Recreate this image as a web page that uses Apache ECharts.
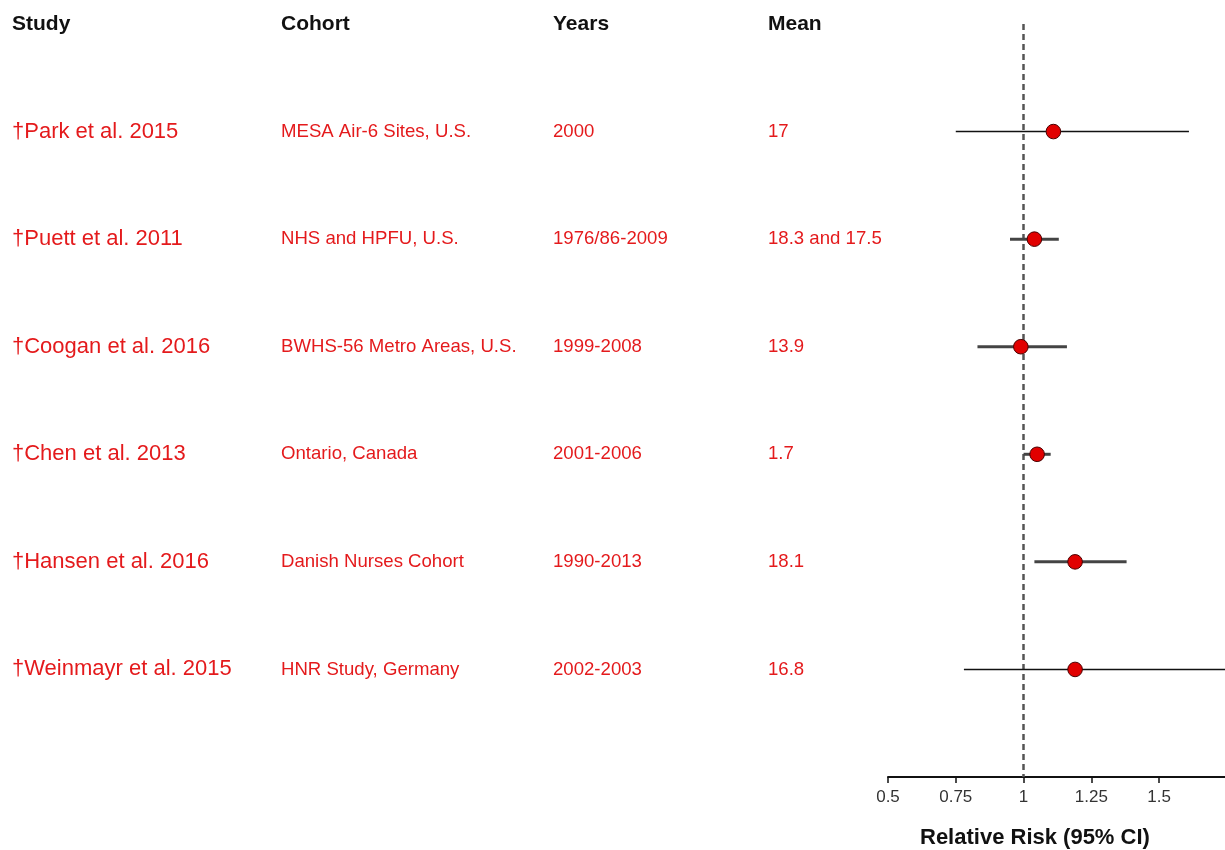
<!DOCTYPE html>
<html>
<head>
<meta charset="utf-8">
<script src="https://cdn.jsdelivr.net/npm/echarts@6/dist/echarts.min.js"></script>
<style>html,body{margin:0;padding:0;background:#fff}#chart{width:1225px;height:850px}</style>
</head>
<body>
<div id="chart"></div>
<script>
const headers = ['Study', 'Cohort', 'Years', 'Mean'];
const studies = ['\u2020Park et al. 2015', '\u2020Puett et al. 2011', '\u2020Coogan et al. 2016', '\u2020Chen et al. 2013', '\u2020Hansen et al. 2016', '\u2020Weinmayr et al. 2015'];
const cohorts = ['MESA Air-6 Sites, U.S.', 'NHS and HPFU, U.S.', 'BWHS-56 Metro Areas, U.S.', 'Ontario, Canada', 'Danish Nurses Cohort', 'HNR Study, Germany'];
const years = ['2000', '1976/86-2009', '1999-2008', '2001-2006', '1990-2013', '2002-2003'];
const means = ['17', '18.3 and 17.5', '13.9', '1.7', '18.1', '16.8'];
const rr = [1.11, 1.04, 0.99, 1.05, 1.19, 1.19];
const lower = [0.75, 0.95, 0.83, 1.00, 1.04, 0.78];
const upper = [1.61, 1.13, 1.16, 1.10, 1.38, 1.80];
const xTicks = [0.5, 0.75, 1, 1.25, 1.5];
const axisTitle = 'Relative Risk (95% CI)';

const FONT = "'Liberation Sans', Arial, sans-serif";
const RED = '#e41a1c';
const colX = [12, 281, 553, 768];

const chart = echarts.init(document.getElementById('chart'), null, { renderer: 'canvas' });

const forestData = rr.map((v, i) => [v, i + 1, lower[i], upper[i]]);
const tableData = studies.map((s, i) => [0, i + 1]);

const option = {
  backgroundColor: '#fff',
  animation: false,
  grid: [
    { left: 888, right: 0, top: 24, bottom: 73 },
    { left: 0, right: 0, top: 24, bottom: 73 }
  ],
  xAxis: [
    {
      gridIndex: 0, type: 'value', min: 0.5, max: 1.743, position: 'bottom',
      splitLine: { show: false },
      axisLine: { show: true, onZero: false, lineStyle: { color: '#111', width: 2 } },
      axisTick: { show: true, customValues: xTicks, length: 6, lineStyle: { color: '#111', width: 1.5 } },
      axisLabel: { customValues: xTicks, color: '#333', fontSize: 17, fontFamily: FONT, margin: 12,
        formatter: v => String(v) }
    },
    { gridIndex: 1, type: 'value', min: 0, max: 1225, show: false }
  ],
  yAxis: [
    { gridIndex: 0, type: 'value', min: 0, max: 7, inverse: true, show: false },
    { gridIndex: 1, type: 'value', min: 0, max: 7, inverse: true, show: false }
  ],
  graphic: [
    {
      type: 'text', left: 1035 - 115, top: 827,
      style: { text: axisTitle, font: 'bold 22px ' + FONT, fill: '#111' }
    }
  ],
  series: [
    {
      type: 'custom',
      xAxisIndex: 1, yAxisIndex: 1,
      data: [[0, 0]],
      silent: true,
      renderItem: function (params, api) {
        const y = api.coord([0, api.value(1)])[1];
        return {
          type: 'group',
          children: headers.map((h, k) => ({
            type: 'text',
            style: { text: h, x: colX[k], y: y, font: 'bold 21px ' + FONT, fill: '#111', verticalAlign: 'middle', align: 'left' }
          }))
        };
      }
    },
    {
      type: 'custom',
      xAxisIndex: 1, yAxisIndex: 1,
      data: tableData,
      silent: true,
      renderItem: function (params, api) {
        const i = params.dataIndex;
        const y = api.coord([0, api.value(1)])[1];
        const texts = [studies[i], cohorts[i], years[i], means[i]];
        return {
          type: 'group',
          children: texts.map((t, k) => ({
            type: 'text',
            style: { text: t, x: colX[k], y: y, font: (k === 0 ? '22px ' : '18.6px ') + FONT, fill: RED, verticalAlign: 'middle', align: 'left' }
          }))
        };
      }
    },
    {
      type: 'custom',
      xAxisIndex: 0, yAxisIndex: 0,
      data: forestData,
      encode: { x: [0, 2, 3], y: 1 },
      clip: true,
      renderItem: function (params, api) {
        const row = api.value(1);
        const p = api.coord([api.value(0), row]);
        const lo = api.coord([api.value(2), row]);
        const hi = api.coord([api.value(3), row]);
        const cs = params.coordSys;
        const wide = (api.value(3) - api.value(2)) > 0.6;
        return {
          type: 'group',
          children: [
            {
              type: 'line',
              shape: { x1: Math.max(lo[0], cs.x), y1: lo[1], x2: Math.min(hi[0], cs.x + cs.width), y2: hi[1] },
              style: { stroke: wide ? '#111' : '#444', lineWidth: wide ? 1.6 : 3 }
            },
            {
              type: 'circle',
              shape: { cx: p[0], cy: p[1], r: 7.3 },
              style: { fill: '#e10000', stroke: '#4a0000', lineWidth: 1 },
              z2: 10
            }
          ]
        };
      },
      markLine: {
        silent: true,
        symbol: 'none',
        label: { show: false },
        lineStyle: { color: '#555', width: 2.5, type: [6, 4] },
        data: [{ xAxis: 1 }],
        z: 1
      }
    }
  ]
};
chart.setOption(option);
</script>
</body>
</html>
